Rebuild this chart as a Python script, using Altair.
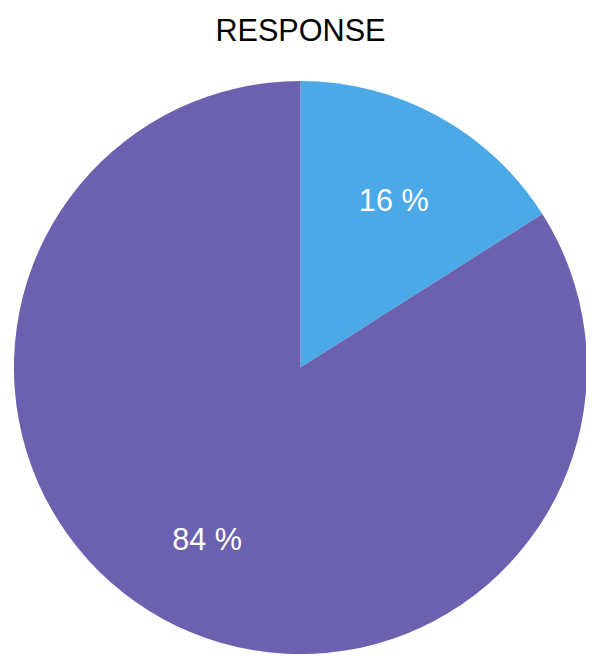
import altair as alt
import pandas as pd

categories = ["Yes", "No"]
values = [16, 84]
labels = ["16 %", "84 %"]
colors = ["#4BA9E8", "#6B61AE"]

df = pd.DataFrame({"category": categories, "value": values, "label": labels, "order": [0, 1]})

base = alt.Chart(df).encode(
    theta=alt.Theta("value:Q", stack=True),
    order=alt.Order("order:Q"),
)

pie = base.mark_arc(outerRadius=290, stroke=None).encode(
    color=alt.Color("category:N", scale=alt.Scale(domain=categories, range=colors), legend=None)
)

text = base.mark_text(radius=196, dy=4, fontSize=31, font="Liberation Sans", color="white").encode(
    text="label:N"
)

chart = (pie + text).properties(
    width=578,
    height=580,
    autosize=alt.AutoSizeParams(type="none"),
    padding={"left": 7, "top": 70, "right": 0, "bottom": 0},
    title=alt.TitleParams("RESPONSE", fontSize=31, font="Liberation Sans", fontWeight="normal",
                          color="black", anchor="middle", offset=34),
).configure_view(stroke=None)

chart.save("out.html", embed_options={"renderer": "svg", "actions": False})
